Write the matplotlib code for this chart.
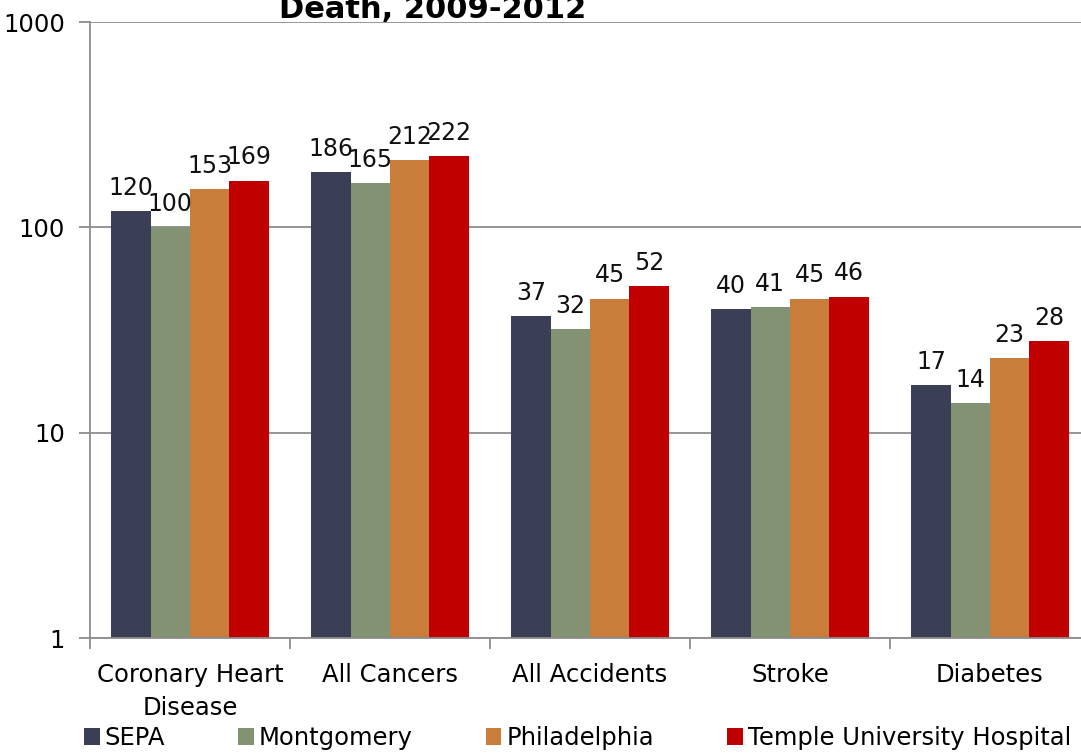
import matplotlib
matplotlib.use("Agg")
import matplotlib.pyplot as plt
import numpy as np
from matplotlib.patches import Patch

categories = ["Coronary Heart\nDisease", "All Cancers", "All Accidents", "Stroke", "Diabetes"]
series_names = ["SEPA", "Montgomery", "Philadelphia", "Temple University Hospital"]
sepa = [120, 186, 37, 40, 17]
montgomery = [100, 165, 32, 41, 14]
philadelphia = [153, 212, 45, 45, 23]
temple = [169, 222, 52, 46, 28]
colors = ["#3A3F55", "#849274", "#C87D3A", "#C00000"]
yticks = [1, 10, 100, 1000]

plt.rcParams['font.family'] = ['DejaVu Sans']
W, H = 1081, 754
fig = plt.figure(figsize=(W / 100, H / 100), dpi=100)
ax = fig.add_axes([90 / W, 1 - 638 / H, 1000 / W, 616 / H])

x = np.arange(len(categories))
bw = 0.197
all_series = [sepa, montgomery, philadelphia, temple]
for i, (vals, c, name) in enumerate(zip(all_series, colors, series_names)):
    xs = x + (i - 1.5) * bw
    ax.bar(xs, vals, width=bw, color=c, label=name, zorder=2)
    for xi, v in zip(xs, vals):
        ax.annotate(str(v), (xi, v), xytext=(0, 8), textcoords="offset points",
                    ha="center", va="bottom", fontsize=17, color="#111111")

ax.set_yscale("log")
ax.set_ylim(1, 1000)
ax.set_xlim(-0.5, 4.5)
ax.set_yticks(yticks)
ax.set_yticklabels([str(t) for t in yticks])
ax.yaxis.set_minor_locator(matplotlib.ticker.NullLocator())
ax.grid(axis="y", color="#8C8C8C", linewidth=1.3, zorder=0)
ax.set_xticks(x)
ax.set_xticklabels(categories, fontsize=17.5, linespacing=1.45)
ax.set_xticks(np.arange(-0.5, 5.0, 1.0), minor=True)
ax.tick_params(axis="x", which="major", length=0, pad=18)
ax.tick_params(axis="x", which="minor", length=8, width=1.3, color="#8C8C8C")
ax.tick_params(axis="y", length=8, width=1.3, color="#8C8C8C", labelsize=17.5, pad=10)
for s in ["top", "right"]:
    ax.spines[s].set_visible(False)
for s in ["left", "bottom"]:
    ax.spines[s].set_color("#8C8C8C")
    ax.spines[s].set_linewidth(1.3)

fig.text(433 / W, 1 - 18 / H, "Death, 2009-2012", ha="center", va="baseline",
         fontsize=22, fontweight="bold")

handles = [Patch(facecolor=c, label=n) for c, n in zip(colors, series_names)]
fig.legend(handles=handles, loc="center left", bbox_to_anchor=(84 / W, 1 - 738 / H),
           ncol=4, frameon=False, fontsize=17.5, handlelength=0.65, handleheight=0.65,
           handletextpad=0.2, columnspacing=3.0, borderaxespad=0, borderpad=0)

fig.savefig("out.png", dpi=100)
